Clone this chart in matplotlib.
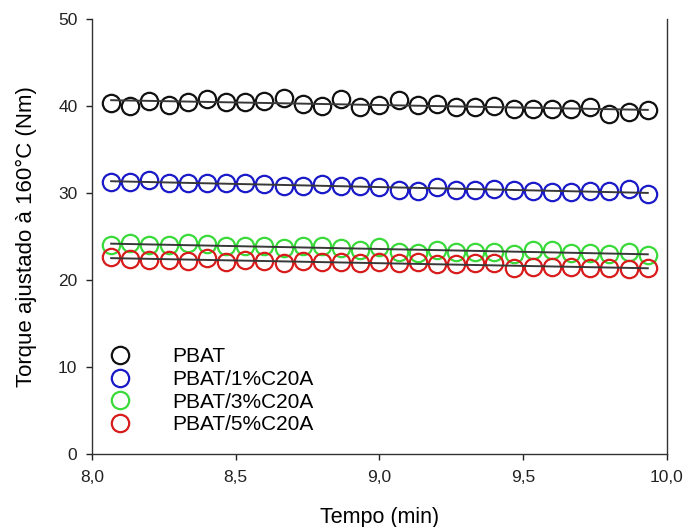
import numpy as np
import matplotlib
matplotlib.use("Agg")
import matplotlib.pyplot as plt

plt.rcParams['font.family'] = ['Liberation Sans', 'DejaVu Sans']

# tempo (min): 29 leituras a cada 4 s entre 8,07 e 9,93 min
tempo = [8.0 + 4 * (i + 1) / 60.0 for i in range(29)]

pbat = [40.3, 40.05, 40.6, 40.1, 40.5, 40.8, 40.5, 40.5, 40.55, 40.9,
        40.2, 40.05, 40.8, 39.9, 40.1, 40.7, 40.1, 40.2, 39.85, 39.85,
        40.0, 39.7, 39.7, 39.65, 39.7, 39.9, 39.05, 39.35, 39.55]
pbat_1 = [31.3, 31.3, 31.55, 31.1, 31.2, 31.1, 31.1, 31.1, 31.0, 30.75,
          30.85, 31.05, 30.85, 30.75, 30.65, 30.35, 30.25, 30.65, 30.35, 30.35,
          30.45, 30.35, 30.25, 30.15, 30.15, 30.25, 30.25, 30.45, 29.85]
pbat_3 = [24.0, 24.3, 24.0, 24.0, 24.2, 24.1, 23.85, 23.9, 23.9, 23.65,
          23.9, 23.85, 23.65, 23.45, 23.8, 23.25, 23.15, 23.45, 23.25, 23.25,
          23.25, 23.0, 23.4, 23.4, 23.15, 23.15, 23.0, 23.25, 22.85]
pbat_5 = [22.6, 22.4, 22.3, 22.3, 22.2, 22.5, 22.1, 22.3, 22.2, 21.9,
          22.2, 22.1, 22.1, 21.9, 22.1, 21.9, 22.1, 21.85, 21.85, 21.9,
          21.9, 21.35, 21.55, 21.55, 21.55, 21.35, 21.35, 21.25, 21.35]

series = [pbat, pbat_1, pbat_3, pbat_5]
nomes = ['PBAT', 'PBAT/1%C20A', 'PBAT/3%C20A', 'PBAT/5%C20A']
cores = ['#111111', '#1a1ac8', '#3ada3a', '#d81c1c']

xticks = [8.0, 8.5, 9.0, 9.5, 10.0]
xtick_labels = ['8,0', '8,5', '9,0', '9,5', '10,0']
yticks = [0, 10, 20, 30, 40, 50]

fig = plt.figure(figsize=(6.89, 5.27), dpi=100)
ax = fig.add_axes([0.1335, 0.1385, 0.8345, 0.8255])

x = np.array(tempo)
for y, nome, cor in zip(series, nomes, cores):
    ax.plot(x, y, linestyle='none', marker='o', markersize=12.5,
            markerfacecolor='none', markeredgecolor=cor, markeredgewidth=1.6,
            label=nome, zorder=3)
    # reta de regressão linear
    a, b = np.polyfit(x, y, 1)
    ax.plot([x[0], x[-1]], [a * x[0] + b, a * x[-1] + b], color='#383838',
            linewidth=1.4, zorder=4)

ax.set_xlim(8.0, 10.0)
ax.set_ylim(0, 50)
ax.set_xticks(xticks)
ax.set_xticklabels(xtick_labels)
ax.set_yticks(yticks)
ax.tick_params(direction='out', length=4.5, width=1, labelsize=12.5,
               colors='#222222')
ax.tick_params(axis='x', pad=7)
ax.tick_params(axis='y', pad=6)
for s in ['left', 'bottom', 'right']:
    ax.spines[s].set_color('#333333')
    ax.spines[s].set_linewidth(1.0)
ax.spines['top'].set_visible(False)

ax.set_xlabel('Tempo (min)', fontsize=15.5, labelpad=16)
ax.set_ylabel('Torque ajustado à 160°C (Nm)', fontsize=16, labelpad=15)

ax.legend(loc='lower left', bbox_to_anchor=(0.012, 0.045), frameon=False,
          fontsize=15, borderpad=0, borderaxespad=0, handlelength=2,
          handletextpad=1.5, labelspacing=0.18)

fig.savefig('out.png', dpi=100)
